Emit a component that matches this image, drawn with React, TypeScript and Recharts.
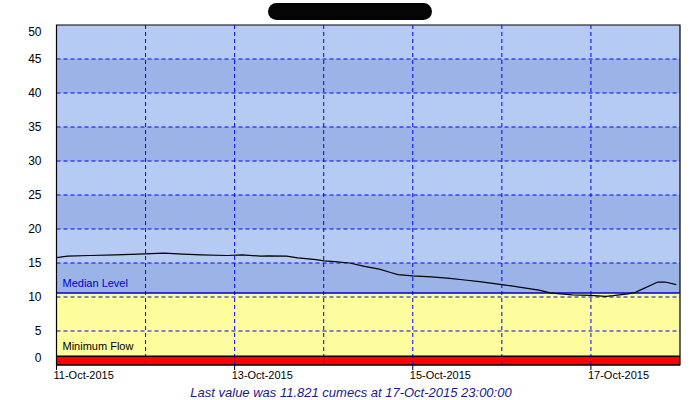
import React from "react";
import {
  ComposedChart,
  Line,
  ReferenceArea,
  ReferenceLine,
  XAxis,
  YAxis,
} from "recharts";

// hours since 11-Oct-2015 00:00
const hours = [
  0, 3, 9, 16, 22, 29, 34, 39, 46, 50, 55, 57, 62, 65, 70, 72, 75, 79, 83, 87, 90, 92, 96, 101,
  106, 110, 114, 117, 121, 126, 130, 133, 135, 139, 144, 148, 150, 154, 156, 158, 162, 164, 167,
];
// flow, cumecs
const flow = [
  15.8, 16.0, 16.1, 16.2, 16.3, 16.45, 16.3, 16.2, 16.1, 16.2, 16.0, 16.05, 16.0, 15.75, 15.5,
  15.3, 15.2, 15.0, 14.5, 14.1, 13.6, 13.3, 13.1, 12.95, 12.75, 12.5, 12.25, 12.05, 11.75, 11.35,
  11.0, 10.6, 10.5, 10.3, 10.25, 10.1, 10.2, 10.45, 10.7, 11.2, 12.2, 12.2, 11.82,
];

const dayTicks = [0, 24, 48, 72, 96, 120, 144];
const dayLabels = ["11-Oct-2015", "", "13-Oct-2015", "", "15-Oct-2015", "", "17-Oct-2015"];
const yTicks = [0, 5, 10, 15, 20, 25, 30, 35, 40, 45, 50];
const bandEdges = [10.6, 15, 20, 25, 30, 35, 40, 45, 50];

const medianLevel = 10.6;
const minimumFlow = 1.3;

const rows = hours.map((h, i) => ({ h, flow: flow[i] }));

const LIGHT = "#b6cbf3";
const DARK = "#9cb3e8";
const FONT = "Liberation Sans, Arial, sans-serif";

function YTick({ x, y, payload }: any) {
  let dy = 4;
  if (payload.value === 50) dy += 7;
  if (payload.value === 0) dy -= 7;
  return (
    <text x={x - 7} y={y + dy} textAnchor="end" fontSize={12} fill="#000" fontFamily={FONT}>
      {payload.value}
    </text>
  );
}

function XTick({ x, y, index }: any) {
  const label = dayLabels[index] ?? "";
  if (!label) return <g />;
  return (
    <g>
      <line x1={x} x2={x} y1={y - 8} y2={y - 3} stroke="#000" />
      <text x={x - 3} y={y + 6} textAnchor="start" fontSize={11} fill="#000" fontFamily={FONT}>
        {label}
      </text>
    </g>
  );
}

export default function App() {
  return (
    <div style={{ position: "absolute", left: 0, top: 0, width: 700, height: 400, background: "#fff" }}>
      <div
        style={{
          position: "absolute",
          left: 268,
          top: 3,
          width: 164,
          height: 17,
          borderRadius: 9,
          background: "#050505",
        }}
      />
      <ComposedChart
        width={700}
        height={400}
        data={rows}
        margin={{ top: 25, right: 20, bottom: 0, left: 0 }}
      >
        {bandEdges.slice(0, -1).map((lo, i) => (
          <ReferenceArea
            key={lo}
            x1={0}
            x2={168}
            y1={lo}
            y2={bandEdges[i + 1]}
            fill={i % 2 === 0 ? DARK : LIGHT}
            fillOpacity={1}
            stroke="none"
          />
        ))}
        <ReferenceArea x1={0} x2={168} y1={0} y2={medianLevel} fill="#fdfd9e" fillOpacity={1} stroke="none" />
        <ReferenceArea x1={0} x2={168} y1={0} y2={minimumFlow} fill="#ff0000" fillOpacity={1} stroke="none" />
        {yTicks.slice(1, -1).map((v) => (
          <ReferenceLine key={`gy${v}`} y={v} stroke="#0000ff" strokeDasharray="4 3" />
        ))}
        {dayTicks.slice(1).map((h) => (
          <ReferenceLine key={`gx${h}`} x={h} stroke="#0000ff" strokeDasharray="4 3" />
        ))}
        <ReferenceLine
          y={medianLevel}
          stroke="#0000cc"
          strokeWidth={1.5}
          label={{
            value: "Median Level",
            position: "insideBottomLeft",
            fill: "#0000cc",
            fontSize: 11,
            fontFamily: FONT,
            offset: 6,
          }}
        />
        <ReferenceLine
          y={minimumFlow}
          stroke="#000"
          strokeWidth={1.5}
          label={{
            value: "Minimum Flow",
            position: "insideBottomLeft",
            fill: "#000",
            fontSize: 11,
            fontFamily: FONT,
            offset: 6,
          }}
        />
        <XAxis
          type="number"
          dataKey="h"
          domain={[0, 168]}
          ticks={dayTicks}
          interval={0}
          height={35}
          axisLine={{ stroke: "#000" }}
          tickLine={false}
          tick={<XTick />}
        />
        <YAxis
          type="number"
          domain={[0, 50]}
          ticks={yTicks}
          interval={0}
          width={56.5}
          axisLine={{ stroke: "#000" }}
          tickLine={false}
          tick={<YTick />}
        />
        <Line
          type="linear"
          dataKey="flow"
          stroke="#000"
          strokeWidth={1.2}
          dot={false}
          isAnimationActive={false}
        />
        <ReferenceArea x1={0} x2={168} y1={0} y2={50} fill="none" stroke="#000" strokeWidth={1.2} />
      </ComposedChart>
      <div
        style={{
          position: "absolute",
          left: 0,
          width: 702,
          top: 385,
          textAlign: "center",
          fontFamily: FONT,
          fontStyle: "italic",
          fontSize: 13,
          color: "#1a1a8c",
        }}
      >
        Last value was 11.821 cumecs at 17-Oct-2015 23:00:00
      </div>
    </div>
  );
}
